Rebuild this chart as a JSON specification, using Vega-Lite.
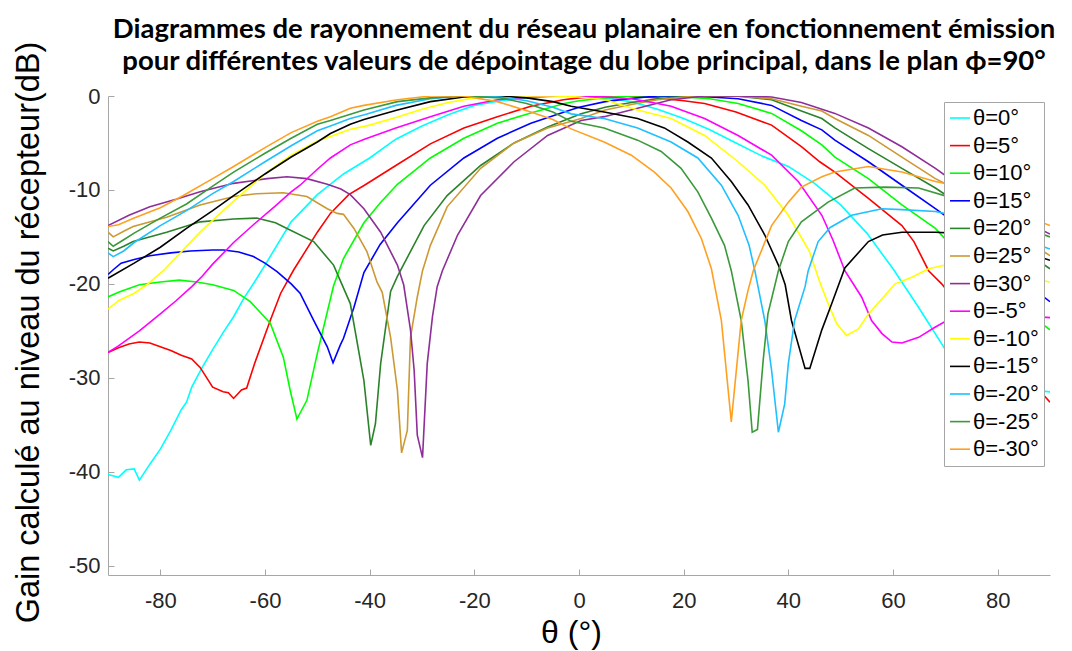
{
"$schema":"https://vega.github.io/schema/vega-lite/v6.json",
"width":942,"height":479,
"autosize":{"type":"none"},
"padding":{"left":108,"top":96,"right":22,"bottom":76},
"background":"white",
"config":{"view":{"stroke":null},"font":"Liberation Sans"},
"title":{"text":["Diagrammes de rayonnement du réseau planaire en fonctionnement émission","pour différentes valeurs de dépointage du lobe principal, dans le plan ϕ=90°"],"font":"Lato","fontSize":27.5,"fontWeight":"bold","color":"#000000","anchor":"middle","frame":"group","offset":10,"lineHeight":32,"dx":5,"dy":44},
"data":{"values":[
{"s":"0","t":-90,"g":-40.3},{"s":"0","t":-88,"g":-40.6},{"s":"0","t":-86.5,"g":-39.8},{"s":"0","t":-85,"g":-39.7},{"s":"0","t":-84,"g":-40.9},{"s":"0","t":-82,"g":-39.2},{"s":"0","t":-80,"g":-37.6},{"s":"0","t":-78,"g":-35.6},{"s":"0","t":-76,"g":-33.4},{"s":"0","t":-75,"g":-32.6},{"s":"0","t":-74,"g":-31.0},{"s":"0","t":-72,"g":-28.9},{"s":"0","t":-70,"g":-27.0},{"s":"0","t":-68,"g":-25.2},{"s":"0","t":-66,"g":-23.5},{"s":"0","t":-64,"g":-21.5},{"s":"0","t":-62,"g":-19.8},{"s":"0","t":-60,"g":-18.0},{"s":"0","t":-55,"g":-13.4},{"s":"0","t":-50,"g":-10.5},{"s":"0","t":-45,"g":-8.3},{"s":"0","t":-40,"g":-6.6},{"s":"0","t":-35,"g":-4.6},{"s":"0","t":-30,"g":-3.2},{"s":"0","t":-25,"g":-2.0},{"s":"0","t":-20,"g":-1.0},{"s":"0","t":-15,"g":-0.5},{"s":"0","t":-10,"g":-0.2},{"s":"0","t":-5,"g":-0.05},{"s":"0","t":0,"g":0},{"s":"0","t":5,"g":-0.2},{"s":"0","t":10,"g":-0.6},{"s":"0","t":15,"g":-1.4},{"s":"0","t":20,"g":-2.4},{"s":"0","t":25,"g":-3.6},{"s":"0","t":30,"g":-5.0},{"s":"0","t":35,"g":-6.4},{"s":"0","t":40,"g":-7.5},{"s":"0","t":45,"g":-9.3},{"s":"0","t":50,"g":-11.6},{"s":"0","t":55,"g":-14.6},{"s":"0","t":60,"g":-18.4},{"s":"0","t":65,"g":-22.6},{"s":"0","t":70,"g":-27.0},{"s":"0","t":72,"g":-28.6},{"s":"0","t":75,"g":-30.0},{"s":"0","t":80,"g":-30.8},{"s":"0","t":85,"g":-31.2},{"s":"0","t":90,"g":-31.5},
{"s":"5","t":-90,"g":-27.3},{"s":"5","t":-88,"g":-26.8},{"s":"5","t":-86,"g":-26.4},{"s":"5","t":-84,"g":-26.2},{"s":"5","t":-82,"g":-26.3},{"s":"5","t":-80,"g":-26.7},{"s":"5","t":-78,"g":-27.1},{"s":"5","t":-76,"g":-27.6},{"s":"5","t":-74,"g":-28.0},{"s":"5","t":-72.4,"g":-28.9},{"s":"5","t":-70,"g":-31.0},{"s":"5","t":-68,"g":-31.5},{"s":"5","t":-67,"g":-31.6},{"s":"5","t":-66,"g":-32.2},{"s":"5","t":-64.5,"g":-31.3},{"s":"5","t":-63.5,"g":-31.1},{"s":"5","t":-62,"g":-28.5},{"s":"5","t":-59,"g":-23.9},{"s":"5","t":-57,"g":-21.0},{"s":"5","t":-54.5,"g":-18.5},{"s":"5","t":-50,"g":-14.5},{"s":"5","t":-47.5,"g":-12.5},{"s":"5","t":-44,"g":-10.5},{"s":"5","t":-41,"g":-9.5},{"s":"5","t":-35,"g":-7.4},{"s":"5","t":-28.4,"g":-5.1},{"s":"5","t":-22,"g":-3.4},{"s":"5","t":-15.6,"g":-2.2},{"s":"5","t":-9.2,"g":-1.1},{"s":"5","t":-3,"g":-0.4},{"s":"5","t":0,"g":-0.2},{"s":"5","t":5,"g":0},{"s":"5","t":10,"g":0},{"s":"5","t":15,"g":-0.2},{"s":"5","t":20,"g":-0.5},{"s":"5","t":24,"g":-0.8},{"s":"5","t":30,"g":-1.7},{"s":"5","t":36.8,"g":-3.1},{"s":"5","t":42.5,"g":-5.4},{"s":"5","t":46,"g":-7.0},{"s":"5","t":48.9,"g":-8.1},{"s":"5","t":55.3,"g":-10.9},{"s":"5","t":61.7,"g":-13.8},{"s":"5","t":64,"g":-15.5},{"s":"5","t":66.8,"g":-18.6},{"s":"5","t":69.3,"g":-20.0},{"s":"5","t":71.6,"g":-21.6},{"s":"5","t":75,"g":-23.5},{"s":"5","t":80,"g":-26.5},{"s":"5","t":85,"g":-29.5},{"s":"5","t":90,"g":-32.6},
{"s":"10","t":-90,"g":-21.4},{"s":"10","t":-88,"g":-20.9},{"s":"10","t":-84,"g":-20.1},{"s":"10","t":-80,"g":-19.8},{"s":"10","t":-76.4,"g":-19.6},{"s":"10","t":-73,"g":-19.8},{"s":"10","t":-70,"g":-20.1},{"s":"10","t":-66,"g":-20.7},{"s":"10","t":-62.8,"g":-21.9},{"s":"10","t":-59,"g":-24.2},{"s":"10","t":-56.5,"g":-27.8},{"s":"10","t":-55.2,"g":-31.3},{"s":"10","t":-53.9,"g":-34.4},{"s":"10","t":-52,"g":-32.4},{"s":"10","t":-50,"g":-27.4},{"s":"10","t":-46.9,"g":-20.2},{"s":"10","t":-45,"g":-17.3},{"s":"10","t":-41.1,"g":-13.5},{"s":"10","t":-38,"g":-11.4},{"s":"10","t":-34.7,"g":-9.4},{"s":"10","t":-28.4,"g":-6.6},{"s":"10","t":-22,"g":-4.5},{"s":"10","t":-15.6,"g":-2.9},{"s":"10","t":-9.2,"g":-1.8},{"s":"10","t":-2.8,"g":-0.8},{"s":"10","t":0,"g":-0.5},{"s":"10","t":5,"g":-0.2},{"s":"10","t":10,"g":0},{"s":"10","t":15,"g":0},{"s":"10","t":20,"g":-0.1},{"s":"10","t":25,"g":-0.3},{"s":"10","t":30.4,"g":-0.8},{"s":"10","t":36.8,"g":-1.85},{"s":"10","t":42.5,"g":-3.7},{"s":"10","t":46.4,"g":-5.2},{"s":"10","t":48.9,"g":-6.5},{"s":"10","t":55.3,"g":-8.8},{"s":"10","t":61.7,"g":-11.6},{"s":"10","t":68.1,"g":-14.1},{"s":"10","t":71.6,"g":-16.2},{"s":"10","t":75,"g":-18.0},{"s":"10","t":80,"g":-20.5},{"s":"10","t":85,"g":-22.8},{"s":"10","t":90,"g":-24.9},
{"s":"15","t":-90,"g":-19.0},{"s":"15","t":-89,"g":-18.5},{"s":"15","t":-87.5,"g":-17.8},{"s":"15","t":-85,"g":-17.4},{"s":"15","t":-82,"g":-17.0},{"s":"15","t":-78,"g":-16.7},{"s":"15","t":-74.3,"g":-16.5},{"s":"15","t":-70,"g":-16.4},{"s":"15","t":-67.9,"g":-16.4},{"s":"15","t":-65,"g":-16.6},{"s":"15","t":-62.2,"g":-17.1},{"s":"15","t":-60,"g":-17.8},{"s":"15","t":-57.7,"g":-18.7},{"s":"15","t":-55,"g":-20.0},{"s":"15","t":-53.3,"g":-21.0},{"s":"15","t":-50.7,"g":-23.9},{"s":"15","t":-48.1,"g":-26.7},{"s":"15","t":-47,"g":-28.4},{"s":"15","t":-45.6,"g":-26.5},{"s":"15","t":-45,"g":-25.8},{"s":"15","t":-43,"g":-22.5},{"s":"15","t":-41.1,"g":-18.8},{"s":"15","t":-38,"g":-15.8},{"s":"15","t":-34.7,"g":-13.5},{"s":"15","t":-28.4,"g":-9.5},{"s":"15","t":-22,"g":-6.6},{"s":"15","t":-15.6,"g":-4.5},{"s":"15","t":-9.2,"g":-2.9},{"s":"15","t":-2.8,"g":-1.7},{"s":"15","t":0,"g":-1.2},{"s":"15","t":5,"g":-0.6},{"s":"15","t":10,"g":-0.25},{"s":"15","t":15,"g":0},{"s":"15","t":20,"g":0},{"s":"15","t":25,"g":-0.1},{"s":"15","t":30.4,"g":-0.3},{"s":"15","t":36.8,"g":-1.0},{"s":"15","t":42.5,"g":-2.6},{"s":"15","t":46.4,"g":-3.6},{"s":"15","t":48.9,"g":-4.7},{"s":"15","t":55.3,"g":-7.0},{"s":"15","t":61.7,"g":-9.5},{"s":"15","t":68.1,"g":-12.0},{"s":"15","t":71.6,"g":-13.4},{"s":"15","t":75,"g":-15.2},{"s":"15","t":80,"g":-17.5},{"s":"15","t":85,"g":-19.8},{"s":"15","t":90,"g":-21.9},
{"s":"20","t":-90,"g":-16.2},{"s":"20","t":-89,"g":-16.5},{"s":"20","t":-87,"g":-16.0},{"s":"20","t":-85.2,"g":-15.5},{"s":"20","t":-78.8,"g":-14.5},{"s":"20","t":-72.4,"g":-13.4},{"s":"20","t":-66,"g":-13.1},{"s":"20","t":-61.6,"g":-13.0},{"s":"20","t":-58,"g":-13.5},{"s":"20","t":-55.8,"g":-14.1},{"s":"20","t":-50.7,"g":-15.5},{"s":"20","t":-46.9,"g":-18.0},{"s":"20","t":-43.7,"g":-22.1},{"s":"20","t":-41.1,"g":-30.3},{"s":"20","t":-39.8,"g":-37.2},{"s":"20","t":-38.9,"g":-34.9},{"s":"20","t":-37.9,"g":-28.5},{"s":"20","t":-36,"g":-20.8},{"s":"20","t":-34.7,"g":-19.2},{"s":"20","t":-29.6,"g":-13.8},{"s":"20","t":-25.2,"g":-10.6},{"s":"20","t":-18.8,"g":-7.4},{"s":"20","t":-12.4,"g":-5.0},{"s":"20","t":-6,"g":-3.3},{"s":"20","t":0.4,"g":-1.9},{"s":"20","t":5,"g":-1.2},{"s":"20","t":10,"g":-0.7},{"s":"20","t":15,"g":-0.3},{"s":"20","t":20,"g":-0.05},{"s":"20","t":25,"g":0},{"s":"20","t":30,"g":0},{"s":"20","t":36.8,"g":-0.4},{"s":"20","t":42.5,"g":-1.6},{"s":"20","t":46.4,"g":-2.4},{"s":"20","t":48.9,"g":-3.4},{"s":"20","t":55.3,"g":-5.6},{"s":"20","t":61.7,"g":-7.7},{"s":"20","t":68.1,"g":-9.8},{"s":"20","t":71.6,"g":-11.1},{"s":"20","t":75,"g":-12.5},{"s":"20","t":80,"g":-14.5},{"s":"20","t":85,"g":-16.5},{"s":"20","t":90,"g":-18.4},
{"s":"25","t":-90,"g":-14.5},{"s":"25","t":-89,"g":-15.0},{"s":"25","t":-87,"g":-14.4},{"s":"25","t":-85.2,"g":-13.9},{"s":"25","t":-78.8,"g":-12.9},{"s":"25","t":-72.4,"g":-11.6},{"s":"25","t":-66,"g":-10.7},{"s":"25","t":-61.6,"g":-10.4},{"s":"25","t":-56.5,"g":-10.3},{"s":"25","t":-52,"g":-10.7},{"s":"25","t":-48.1,"g":-12.0},{"s":"25","t":-46.2,"g":-12.5},{"s":"25","t":-45,"g":-12.6},{"s":"25","t":-43,"g":-14.1},{"s":"25","t":-40.5,"g":-16.6},{"s":"25","t":-38.6,"g":-19.8},{"s":"25","t":-37.6,"g":-20.9},{"s":"25","t":-36,"g":-25.7},{"s":"25","t":-34.7,"g":-31.3},{"s":"25","t":-33.9,"g":-38.0},{"s":"25","t":-32.8,"g":-35.6},{"s":"25","t":-32.2,"g":-25.7},{"s":"25","t":-30.9,"g":-21.4},{"s":"25","t":-29.9,"g":-18.6},{"s":"25","t":-28.4,"g":-15.9},{"s":"25","t":-25.2,"g":-11.8},{"s":"25","t":-18.8,"g":-7.7},{"s":"25","t":-12.4,"g":-5.0},{"s":"25","t":-6,"g":-3.4},{"s":"25","t":0.4,"g":-2.4},{"s":"25","t":5,"g":-1.5},{"s":"25","t":10,"g":-0.9},{"s":"25","t":15,"g":-0.4},{"s":"25","t":20,"g":-0.1},{"s":"25","t":25,"g":0},{"s":"25","t":30,"g":0},{"s":"25","t":36.8,"g":-0.3},{"s":"25","t":42.5,"g":-1.1},{"s":"25","t":46.4,"g":-1.6},{"s":"25","t":48.9,"g":-2.4},{"s":"25","t":55.3,"g":-4.2},{"s":"25","t":61.7,"g":-6.5},{"s":"25","t":68.1,"g":-8.8},{"s":"25","t":71.6,"g":-9.8},{"s":"25","t":75,"g":-11.2},{"s":"25","t":80,"g":-13.2},{"s":"25","t":85,"g":-15.2},{"s":"25","t":90,"g":-17.0},
{"s":"30","t":-90,"g":-13.8},{"s":"30","t":-86,"g":-12.7},{"s":"30","t":-82,"g":-11.8},{"s":"30","t":-77,"g":-11.0},{"s":"30","t":-72.4,"g":-10.2},{"s":"30","t":-66,"g":-9.3},{"s":"30","t":-59.6,"g":-8.8},{"s":"30","t":-55.8,"g":-8.6},{"s":"30","t":-52,"g":-8.8},{"s":"30","t":-48.1,"g":-9.4},{"s":"30","t":-45.5,"g":-9.9},{"s":"30","t":-43.7,"g":-10.5},{"s":"30","t":-41.1,"g":-12.0},{"s":"30","t":-37.9,"g":-14.5},{"s":"30","t":-34.7,"g":-18.0},{"s":"30","t":-33.5,"g":-20.1},{"s":"30","t":-32.2,"g":-24.9},{"s":"30","t":-31.5,"g":-29.2},{"s":"30","t":-30.9,"g":-36.1},{"s":"30","t":-29.9,"g":-38.5},{"s":"30","t":-29,"g":-28.5},{"s":"30","t":-28,"g":-23.5},{"s":"30","t":-27.1,"g":-20.3},{"s":"30","t":-26.1,"g":-18.6},{"s":"30","t":-23.2,"g":-14.8},{"s":"30","t":-18.8,"g":-10.6},{"s":"30","t":-12.4,"g":-7.0},{"s":"30","t":-6,"g":-4.2},{"s":"30","t":0.4,"g":-2.6},{"s":"30","t":4.8,"g":-2.2},{"s":"30","t":11.2,"g":-1.3},{"s":"30","t":17.6,"g":-0.4},{"s":"30","t":24,"g":0},{"s":"30","t":30.4,"g":0},{"s":"30","t":36.8,"g":-0.1},{"s":"30","t":42.5,"g":-0.7},{"s":"30","t":48.9,"g":-1.85},{"s":"30","t":55.3,"g":-3.4},{"s":"30","t":61.7,"g":-5.4},{"s":"30","t":68.1,"g":-7.7},{"s":"30","t":71.6,"g":-9.1},{"s":"30","t":75,"g":-10.3},{"s":"30","t":80,"g":-11.8},{"s":"30","t":85,"g":-13.3},{"s":"30","t":90,"g":-14.7},
{"s":"-5","t":-90,"g":-27.3},{"s":"-5","t":-88,"g":-26.6},{"s":"-5","t":-86,"g":-25.8},{"s":"-5","t":-84,"g":-25.0},{"s":"-5","t":-82,"g":-24.1},{"s":"-5","t":-80,"g":-23.2},{"s":"-5","t":-77,"g":-21.8},{"s":"-5","t":-74,"g":-20.3},{"s":"-5","t":-72,"g":-19.2},{"s":"-5","t":-70,"g":-17.9},{"s":"-5","t":-66,"g":-15.6},{"s":"-5","t":-62,"g":-13.6},{"s":"-5","t":-58,"g":-11.7},{"s":"-5","t":-55,"g":-10.2},{"s":"-5","t":-53.3,"g":-9.5},{"s":"-5","t":-50,"g":-7.8},{"s":"-5","t":-47.5,"g":-6.6},{"s":"-5","t":-43.7,"g":-5.2},{"s":"-5","t":-41,"g":-4.6},{"s":"-5","t":-35,"g":-3.4},{"s":"-5","t":-28.4,"g":-2.2},{"s":"-5","t":-22,"g":-1.1},{"s":"-5","t":-15.6,"g":-0.4},{"s":"-5","t":-9.2,"g":-0.1},{"s":"-5","t":-5,"g":0},{"s":"-5","t":0,"g":0},{"s":"-5","t":5,"g":-0.1},{"s":"-5","t":10,"g":-0.3},{"s":"-5","t":15,"g":-0.8},{"s":"-5","t":17.6,"g":-1.1},{"s":"-5","t":24,"g":-2.4},{"s":"-5","t":30.4,"g":-4.2},{"s":"-5","t":36.8,"g":-6.3},{"s":"-5","t":41.9,"g":-9.1},{"s":"-5","t":46.4,"g":-12.7},{"s":"-5","t":48.5,"g":-15.3},{"s":"-5","t":50.8,"g":-18.6},{"s":"-5","t":54,"g":-21.4},{"s":"-5","t":55.9,"g":-23.9},{"s":"-5","t":57.9,"g":-25.3},{"s":"-5","t":59.8,"g":-26.2},{"s":"-5","t":61.7,"g":-26.3},{"s":"-5","t":64.9,"g":-25.7},{"s":"-5","t":68.1,"g":-24.6},{"s":"-5","t":71.6,"g":-23.5},{"s":"-5","t":75,"g":-23.3},{"s":"-5","t":80,"g":-23.2},{"s":"-5","t":85,"g":-23.4},{"s":"-5","t":90,"g":-23.6},
{"s":"-10","t":-90,"g":-22.7},{"s":"-10","t":-88,"g":-21.8},{"s":"-10","t":-85,"g":-21.0},{"s":"-10","t":-82.6,"g":-20.1},{"s":"-10","t":-79.4,"g":-18.6},{"s":"-10","t":-76,"g":-16.6},{"s":"-10","t":-72.4,"g":-14.5},{"s":"-10","t":-68,"g":-12.2},{"s":"-10","t":-64,"g":-10.2},{"s":"-10","t":-59.6,"g":-8.1},{"s":"-10","t":-55,"g":-6.3},{"s":"-10","t":-50,"g":-4.8},{"s":"-10","t":-47.5,"g":-4.3},{"s":"-10","t":-44,"g":-3.6},{"s":"-10","t":-40,"g":-3.1},{"s":"-10","t":-35,"g":-2.3},{"s":"-10","t":-30,"g":-1.4},{"s":"-10","t":-25,"g":-0.7},{"s":"-10","t":-20,"g":-0.2},{"s":"-10","t":-15,"g":0},{"s":"-10","t":-10,"g":0},{"s":"-10","t":-5,"g":0},{"s":"-10","t":0,"g":-0.1},{"s":"-10","t":5,"g":-0.4},{"s":"-10","t":11.2,"g":-1.5},{"s":"-10","t":17.6,"g":-2.4},{"s":"-10","t":24,"g":-4.2},{"s":"-10","t":30.4,"g":-7.0},{"s":"-10","t":35.5,"g":-9.5},{"s":"-10","t":40,"g":-12.7},{"s":"-10","t":44,"g":-16.5},{"s":"-10","t":46,"g":-19.8},{"s":"-10","t":47.6,"g":-22.1},{"s":"-10","t":49.2,"g":-24.2},{"s":"-10","t":51.1,"g":-25.5},{"s":"-10","t":53.4,"g":-24.8},{"s":"-10","t":55.3,"g":-23.2},{"s":"-10","t":57.9,"g":-21.6},{"s":"-10","t":60.4,"g":-20.0},{"s":"-10","t":63.6,"g":-19.3},{"s":"-10","t":66.8,"g":-18.4},{"s":"-10","t":70,"g":-18.0},{"s":"-10","t":75,"g":-18.3},{"s":"-10","t":80,"g":-18.8},{"s":"-10","t":85,"g":-19.3},{"s":"-10","t":90,"g":-19.8},
{"s":"-15","t":-90,"g":-19.4},{"s":"-15","t":-85,"g":-17.8},{"s":"-15","t":-80,"g":-16.1},{"s":"-15","t":-75,"g":-14.1},{"s":"-15","t":-70,"g":-12.2},{"s":"-15","t":-66,"g":-10.6},{"s":"-15","t":-60,"g":-8.3},{"s":"-15","t":-55,"g":-6.5},{"s":"-15","t":-50,"g":-4.9},{"s":"-15","t":-47.5,"g":-4.0},{"s":"-15","t":-43.7,"g":-3.0},{"s":"-15","t":-41.1,"g":-2.5},{"s":"-15","t":-34.7,"g":-1.5},{"s":"-15","t":-28.4,"g":-0.6},{"s":"-15","t":-22,"g":-0.1},{"s":"-15","t":-15,"g":0},{"s":"-15","t":-10,"g":-0.2},{"s":"-15","t":-5,"g":-0.6},{"s":"-15","t":-1.5,"g":-1.1},{"s":"-15","t":4.8,"g":-1.7},{"s":"-15","t":11.2,"g":-2.4},{"s":"-15","t":16.3,"g":-3.4},{"s":"-15","t":20.8,"g":-4.9},{"s":"-15","t":25.3,"g":-6.6},{"s":"-15","t":29.1,"g":-9.1},{"s":"-15","t":32.3,"g":-11.6},{"s":"-15","t":35.5,"g":-14.8},{"s":"-15","t":38.1,"g":-18.0},{"s":"-15","t":39.4,"g":-20.1},{"s":"-15","t":40.6,"g":-23.9},{"s":"-15","t":43.2,"g":-29.0},{"s":"-15","t":44.1,"g":-29.0},{"s":"-15","t":46.4,"g":-24.9},{"s":"-15","t":48.3,"g":-22.1},{"s":"-15","t":50.8,"g":-18.3},{"s":"-15","t":55.3,"g":-15.5},{"s":"-15","t":58,"g":-14.8},{"s":"-15","t":61.7,"g":-14.5},{"s":"-15","t":68.1,"g":-14.5},{"s":"-15","t":71.6,"g":-14.6},{"s":"-15","t":75,"g":-15.0},{"s":"-15","t":80,"g":-15.8},{"s":"-15","t":85,"g":-16.6},{"s":"-15","t":90,"g":-17.5},
{"s":"-20","t":-90,"g":-16.7},{"s":"-20","t":-89,"g":-17.1},{"s":"-20","t":-87,"g":-16.5},{"s":"-20","t":-85,"g":-15.6},{"s":"-20","t":-80,"g":-13.8},{"s":"-20","t":-75,"g":-12.2},{"s":"-20","t":-70,"g":-10.4},{"s":"-20","t":-66,"g":-9.1},{"s":"-20","t":-60,"g":-7.0},{"s":"-20","t":-55,"g":-5.3},{"s":"-20","t":-50,"g":-3.7},{"s":"-20","t":-47.5,"g":-3.2},{"s":"-20","t":-43.7,"g":-2.4},{"s":"-20","t":-41,"g":-2.0},{"s":"-20","t":-35,"g":-1.0},{"s":"-20","t":-28.4,"g":-0.3},{"s":"-20","t":-22,"g":0},{"s":"-20","t":-15,"g":-0.1},{"s":"-20","t":-10,"g":-0.5},{"s":"-20","t":-5,"g":-1.2},{"s":"-20","t":-1.5,"g":-1.9},{"s":"-20","t":4.8,"g":-2.4},{"s":"-20","t":11.2,"g":-3.4},{"s":"-20","t":17.6,"g":-4.9},{"s":"-20","t":22.7,"g":-6.6},{"s":"-20","t":27.2,"g":-9.5},{"s":"-20","t":30.4,"g":-12.7},{"s":"-20","t":32.5,"g":-15.9},{"s":"-20","t":33.6,"g":-18.6},{"s":"-20","t":35.5,"g":-23.9},{"s":"-20","t":36.8,"g":-29.2},{"s":"-20","t":38.1,"g":-35.8},{"s":"-20","t":39.3,"g":-32.8},{"s":"-20","t":40,"g":-28.5},{"s":"-20","t":41.2,"g":-23.9},{"s":"-20","t":43.2,"g":-20.3},{"s":"-20","t":43.8,"g":-18.6},{"s":"-20","t":45.7,"g":-15.5},{"s":"-20","t":48,"g":-14.0},{"s":"-20","t":52.1,"g":-12.7},{"s":"-20","t":57.9,"g":-12.0},{"s":"-20","t":61.7,"g":-12.1},{"s":"-20","t":68.1,"g":-12.3},{"s":"-20","t":71.6,"g":-12.7},{"s":"-20","t":75,"g":-13.4},{"s":"-20","t":80,"g":-14.4},{"s":"-20","t":85,"g":-15.3},{"s":"-20","t":90,"g":-16.3},
{"s":"-25","t":-90,"g":-15.5},{"s":"-25","t":-89,"g":-16.0},{"s":"-25","t":-87,"g":-15.3},{"s":"-25","t":-85,"g":-14.6},{"s":"-25","t":-80,"g":-13.0},{"s":"-25","t":-75,"g":-11.5},{"s":"-25","t":-70,"g":-9.6},{"s":"-25","t":-66,"g":-8.1},{"s":"-25","t":-60,"g":-6.1},{"s":"-25","t":-55,"g":-4.5},{"s":"-25","t":-50,"g":-3.0},{"s":"-25","t":-47.5,"g":-2.6},{"s":"-25","t":-41.1,"g":-1.5},{"s":"-25","t":-34.7,"g":-0.6},{"s":"-25","t":-28.4,"g":-0.2},{"s":"-25","t":-22,"g":0},{"s":"-25","t":-15,"g":-0.2},{"s":"-25","t":-10,"g":-0.8},{"s":"-25","t":-5,"g":-1.7},{"s":"-25","t":-1.5,"g":-2.7},{"s":"-25","t":4.8,"g":-3.4},{"s":"-25","t":11.2,"g":-4.7},{"s":"-25","t":15.7,"g":-5.9},{"s":"-25","t":19.5,"g":-7.7},{"s":"-25","t":22.7,"g":-10.2},{"s":"-25","t":25.3,"g":-13.0},{"s":"-25","t":27.8,"g":-15.9},{"s":"-25","t":29.1,"g":-18.6},{"s":"-25","t":31,"g":-23.9},{"s":"-25","t":32.3,"g":-30.3},{"s":"-25","t":33.1,"g":-35.8},{"s":"-25","t":34.1,"g":-35.5},{"s":"-25","t":35.2,"g":-28.1},{"s":"-25","t":36.1,"g":-23.2},{"s":"-25","t":38.1,"g":-18.6},{"s":"-25","t":40,"g":-15.5},{"s":"-25","t":42.5,"g":-13.4},{"s":"-25","t":47.6,"g":-11.3},{"s":"-25","t":52.7,"g":-9.8},{"s":"-25","t":58.5,"g":-9.7},{"s":"-25","t":64.9,"g":-9.8},{"s":"-25","t":71.6,"g":-10.9},{"s":"-25","t":75,"g":-11.6},{"s":"-25","t":80,"g":-12.8},{"s":"-25","t":85,"g":-14.0},{"s":"-25","t":90,"g":-15.0},
{"s":"-30","t":-90,"g":-13.9},{"s":"-30","t":-88,"g":-13.7},{"s":"-30","t":-85,"g":-13.0},{"s":"-30","t":-80,"g":-11.9},{"s":"-30","t":-75.6,"g":-10.6},{"s":"-30","t":-70,"g":-8.8},{"s":"-30","t":-66,"g":-7.5},{"s":"-30","t":-60,"g":-5.5},{"s":"-30","t":-55,"g":-3.9},{"s":"-30","t":-50,"g":-2.7},{"s":"-30","t":-47.5,"g":-2.2},{"s":"-30","t":-43.7,"g":-1.3},{"s":"-30","t":-41.1,"g":-1.0},{"s":"-30","t":-34.7,"g":-0.4},{"s":"-30","t":-28.4,"g":0},{"s":"-30","t":-22,"g":0},{"s":"-30","t":-15.6,"g":-0.6},{"s":"-30","t":-9.2,"g":-1.7},{"s":"-30","t":-5,"g":-2.5},{"s":"-30","t":-1.5,"g":-3.5},{"s":"-30","t":4.8,"g":-4.9},{"s":"-30","t":10,"g":-6.3},{"s":"-30","t":14.4,"g":-8.1},{"s":"-30","t":17.6,"g":-9.8},{"s":"-30","t":20.8,"g":-12.3},{"s":"-30","t":23.4,"g":-15.2},{"s":"-30","t":25.3,"g":-18.4},{"s":"-30","t":27.2,"g":-23.9},{"s":"-30","t":29.1,"g":-34.7},{"s":"-30","t":31,"g":-23.9},{"s":"-30","t":32.3,"g":-20.7},{"s":"-30","t":33.3,"g":-18.6},{"s":"-30","t":36.8,"g":-13.8},{"s":"-30","t":40,"g":-11.3},{"s":"-30","t":42.5,"g":-9.7},{"s":"-30","t":46.4,"g":-8.6},{"s":"-30","t":48.9,"g":-8.1},{"s":"-30","t":55.3,"g":-7.5},{"s":"-30","t":61.7,"g":-8.1},{"s":"-30","t":68.1,"g":-9.1},{"s":"-30","t":71.6,"g":-9.5},{"s":"-30","t":75,"g":-10.3},{"s":"-30","t":80,"g":-11.5},{"s":"-30","t":85,"g":-12.7},{"s":"-30","t":90,"g":-13.8}
]},
"mark":{"type":"line","strokeWidth":1.6,"clip":true},
"encoding":{
"x":{"field":"t","type":"quantitative","scale":{"domain":[-90,90],"nice":false},
 "axis":{"values":[-80,-60,-40,-20,0,20,40,60,80],"labelExpr":"'' + datum.value","title":"θ (°)","titleFont":"Liberation Sans","titleFontSize":32,"titleFontWeight":"normal","titleColor":"#000000","titleX":463,"titleY":57,"titleBaseline":"middle","titleAlign":"center","labelFont":"Liberation Sans","labelFontSize":22,"labelColor":"#262626","labelPadding":21,"tickSize":-6,"tickColor":"#a6a6a6","domainColor":"#a6a6a6","grid":false,"labelFlush":false}},
"y":{"field":"g","type":"quantitative","scale":{"domain":[-51,0],"nice":false,"zero":false},
 "axis":{"values":[0,-10,-20,-30,-40,-50],"labelExpr":"'' + datum.value","title":"Gain calculé au niveau du récepteur(dB)","titleFont":"Liberation Sans","titleFontSize":32.5,"titleFontWeight":"normal","titleColor":"#000000","titleX":-80,"titleY":236,"titleAngle":-90,"titleBaseline":"middle","titleAlign":"center","labelFont":"Liberation Sans","labelFontSize":22,"labelColor":"#262626","labelPadding":14,"tickSize":-6,"tickColor":"#a6a6a6","domainColor":"#a6a6a6","grid":false,"labelFlush":false}},
"color":{"field":"s","type":"nominal","scale":{"domain":["0","5","10","15","20","25","30","-5","-10","-15","-20","-25","-30"],"range":["#00FFFF","#FF0000","#00FF00","#0000FF","#2A832A","#CC9933","#8E2E99","#FF00FF","#FFFF00","#000000","#1EC0FF","#3A9A3A","#FFA020"]},
 "legend":{"orient":"top-right","offset":6,"title":null,"labelExpr":"'θ=' + datum.label + '°'","labelFont":"Liberation Sans","labelFontSize":22,"labelColor":"#000000","symbolType":"stroke","symbolSize":400,"symbolStrokeWidth":1.6,"strokeColor":"#a6a6a6","fillColor":"#ffffff","padding":5,"rowPadding":5.6,"labelOffset":2}}
}
}
